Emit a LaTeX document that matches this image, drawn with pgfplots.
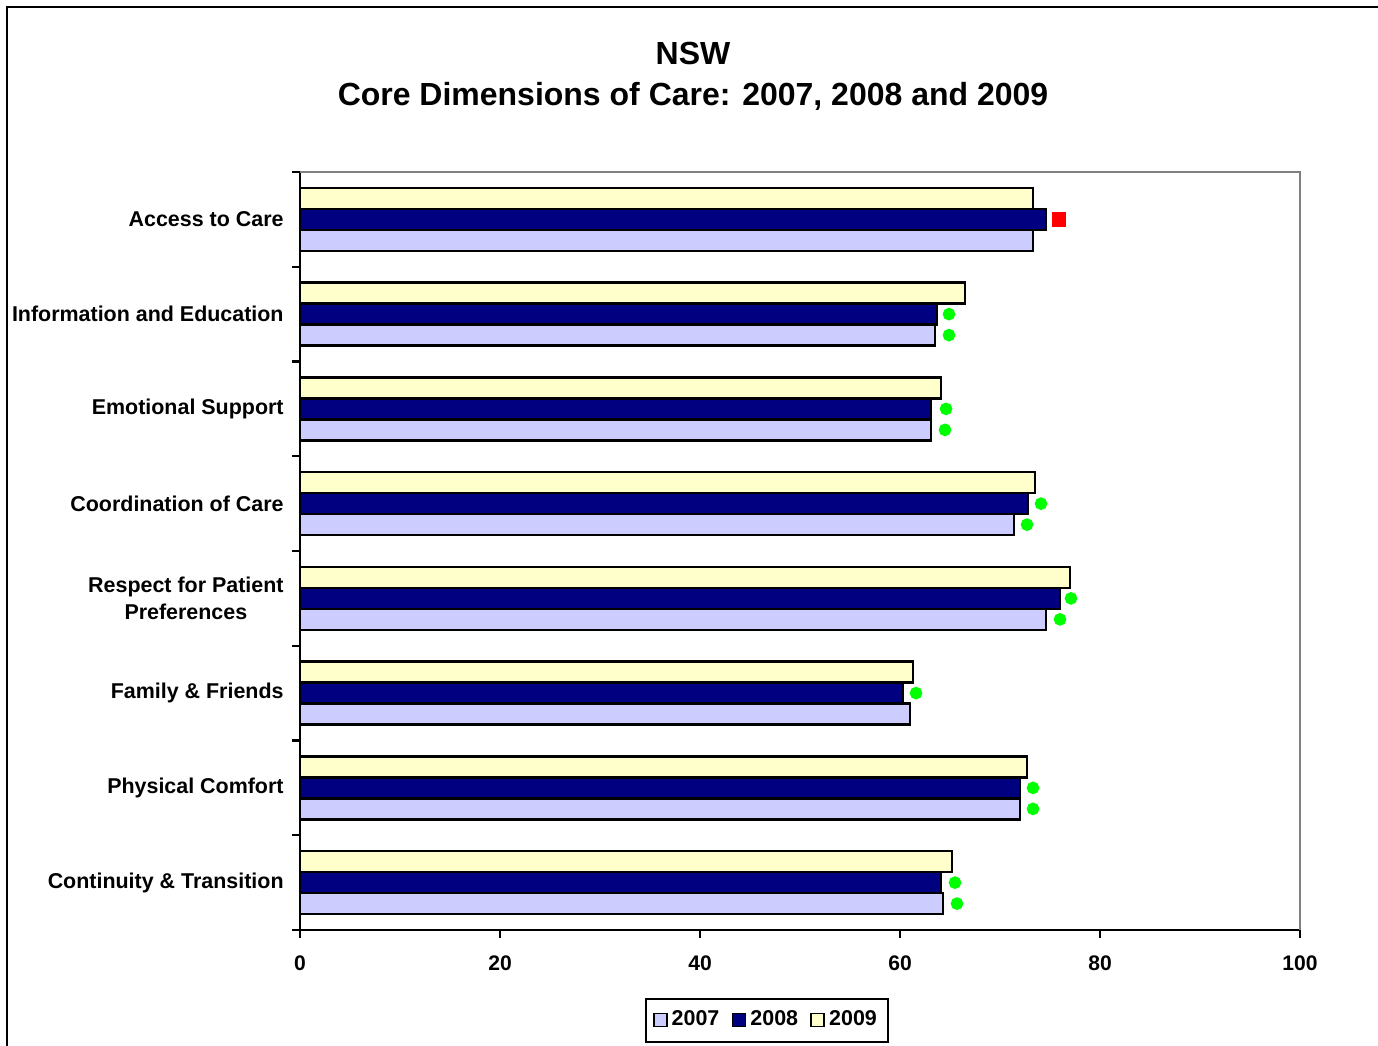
\documentclass[border=0pt]{standalone}
\usepackage{fontspec}
\setmainfont{Liberation Sans}
\usepackage{pgfplots}
\usepackage{pgfplotstable}
\pgfplotsset{compat=1.18}
\definecolor{c07}{RGB}{204,204,255}
\definecolor{c08}{RGB}{0,0,128}
\definecolor{c09}{RGB}{255,255,204}
\definecolor{mgreen}{RGB}{0,255,0}
\definecolor{mred}{RGB}{255,0,0}
\definecolor{agray}{RGB}{128,128,128}

% c: 0 = Continuity & Transition (bottom) ... 7 = Access to Care (top)
\pgfplotstableread{
c v07 v08 v09
0 64.3 64.1 65.2
1 72.0 72.0 72.7
2 61.0 60.3 61.3
3 74.6 76.0 77.0
4 71.4 72.8 73.5
5 63.1 63.1 64.1
6 63.5 63.7 66.5
7 73.3 74.6 73.3
}\data

\begin{document}
\begin{tikzpicture}[x=1cm,y=1cm]
\useasboundingbox (0,0) rectangle (13.78,10.46);
\draw[line width=0.6pt] (0.07,-0.1) -- (0.07,10.39) -- (13.9,10.39);
\node[anchor=base, font=\fontsize{9.1}{11}\selectfont\bfseries] at (6.93,9.81) {NSW};
\node[anchor=base, font=\fontsize{9.1}{11}\selectfont\bfseries] at (6.93,9.40) {Core Dimensions of Care: 2007, 2008 and 2009};
\begin{axis}[
  at={(3cm,1.16cm)}, anchor=south west,
  scale only axis, width=10cm, height=7.58cm,
  clip=false,
  bar width=0.21cm,
  xmin=0, xmax=100, ymin=-0.5, ymax=7.5,
  axis lines=left, axis line style={-, line width=0.6pt, black},
  xtick={0,20,...,100},
  ytick={0,...,7},
  yticklabels={Continuity \& Transition, Physical Comfort, Family \& Friends, {Respect for Patient\\Preferences}, Coordination of Care, Emotional Support, Information and Education, Access to Care},
  minor ytick={-0.5,0.5,...,7.5},
  tick align=outside,
  major tick length=0.08cm, minor tick length=0.08cm,
  tick style={black, line width=0.6pt},
  major y tick style={draw=none},
  yticklabel style={font=\fontsize{6.1}{7.6}\selectfont\bfseries, align=center, xshift=0.04cm},
  xticklabel style={font=\fontsize{6}{7}\selectfont\bfseries, yshift=-0.05cm},
  /pgf/number format/assume math mode=true,
  legend style={at={(0.467,-0.119)}, anchor=center, legend columns=3, draw=black, line width=0.6pt,
    font=\fontsize{6.1}{7}\selectfont\bfseries, inner sep=2pt,
    nodes={inner sep=1.2pt},
    /tikz/every even column/.append style={column sep=0.08cm}},
  legend image code/.code={\draw[#1, line width=0.45pt] (0cm,-0.065cm) rectangle (0.13cm,0.065cm);},
]
\draw[agray, line width=0.6pt] (axis cs:0,7.5) -- (axis cs:100,7.5) -- (axis cs:100,-0.5);
\addplot[xbar, fill=c07, draw=black, line width=0.7pt, bar shift=-0.21cm] table[x=v07, y=c]{\data};
\addlegendentry{2007}
\addplot[xbar, fill=c08, draw=black, line width=0.7pt, bar shift=0cm] table[x=v08, y=c]{\data};
\addlegendentry{2008}
\addplot[xbar, fill=c09, draw=black, line width=0.7pt, bar shift=0.21cm] table[x=v09, y=c]{\data};
\addlegendentry{2009}
% significance markers, 2008 row
\addplot[forget plot, only marks, mark=*, mark size=1.6pt, color=mgreen] coordinates {
(64.9,6) (64.6,5) (74.1,4) (77.1,3) (61.6,2) (73.3,1) (65.5,0)};
% significance markers, 2007 row
\addplot[forget plot, only marks, mark=*, mark size=1.6pt, color=mgreen] coordinates {
(64.9,5.7784) (64.5,4.7784) (72.7,3.7784) (76.0,2.7784) (73.3,0.7784) (65.7,-0.2216)};
\addplot[forget plot, only marks, mark=square*, mark size=1.85pt, color=mred] coordinates {(75.9,7)};
\end{axis}
\end{tikzpicture}
\end{document}
